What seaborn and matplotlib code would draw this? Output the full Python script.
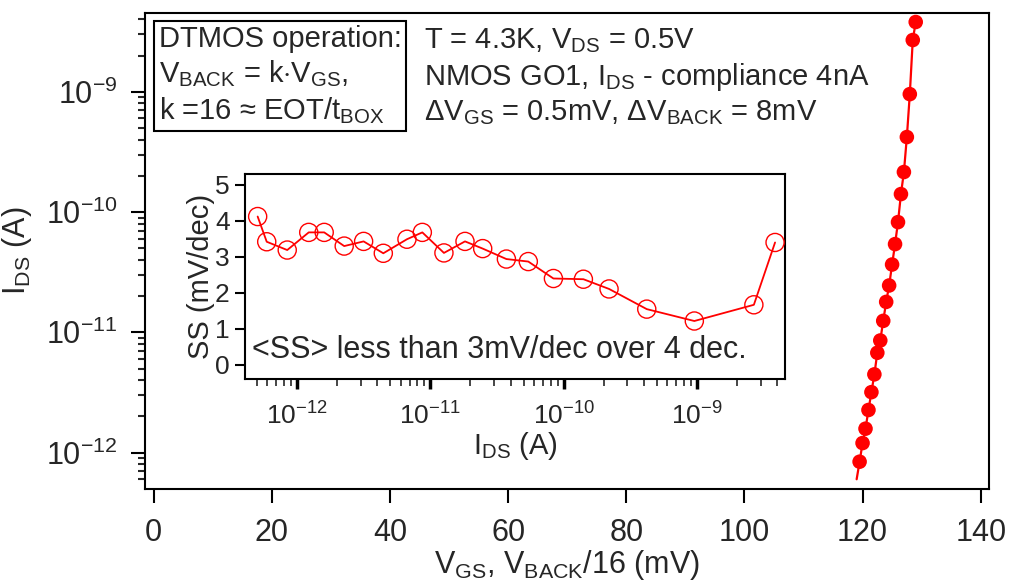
"""Subthreshold swing plot for DTMOS operation at 4.3 K (transfer curve + SS inset)."""
import matplotlib
matplotlib.use('Agg')
import matplotlib.pyplot as plt
import matplotlib.ticker as mticker
import numpy as np
import pandas as pd
import seaborn as sns

# Main transfer curve: first point is drawn as line only (no marker in the original)
vgs_mv = [119.0, 119.5, 120.0, 120.5, 121.0, 121.5, 122.0, 122.5, 123.0, 123.5, 124.0,
          124.5, 125.0, 125.5, 126.0, 126.5, 127.0, 127.5, 128.0, 128.5, 129.0]
ids_a = [6.0e-13, 8.4e-13, 1.20e-12, 1.58e-12, 2.26e-12, 3.18e-12, 4.47e-12, 6.76e-12,
         8.55e-12, 1.245e-11, 1.79e-11, 2.45e-11, 3.66e-11, 5.41e-11, 8.24e-11,
         1.41e-10, 2.15e-10, 4.20e-10, 9.55e-10, 2.69e-9, 3.80e-9]

# Inset: subthreshold swing vs drain current
ss_ids_a = [5.07e-13, 5.93e-13, 8.45e-13, 1.225e-12, 1.60e-12, 2.26e-12, 3.16e-12,
            4.44e-12, 6.68e-12, 8.71e-12, 1.265e-11, 1.82e-11, 2.47e-11, 3.72e-11,
            5.43e-11, 8.38e-11, 1.406e-10, 2.19e-10, 4.20e-10, 9.55e-10, 2.67e-9, 3.85e-9]
ss_mv_dec = [4.12, 3.42, 3.19, 3.68, 3.68, 3.30, 3.43, 3.10, 3.49, 3.68, 3.11, 3.43,
             3.23, 2.94, 2.87, 2.40, 2.38, 2.11, 1.55, 1.22, 1.67, 3.40]

main_xticks = [0, 20, 40, 60, 80, 100, 120, 140]
main_yticks = [1e-12, 1e-11, 1e-10, 1e-9]
inset_xticks = [1e-12, 1e-11, 1e-10, 1e-9]
inset_yticks = [0, 1, 2, 3, 4, 5]

sns.set_style('ticks')
plt.rcParams['font.family'] = ['Liberation Sans', 'DejaVu Sans']
plt.rcParams['mathtext.fontset'] = 'custom'
plt.rcParams['mathtext.rm'] = 'Liberation Sans'
plt.rcParams['mathtext.it'] = 'Liberation Sans:italic'
plt.rcParams['mathtext.bf'] = 'Liberation Sans:bold'
plt.rcParams['axes.linewidth'] = 1.5

main_df = pd.DataFrame({'vgs': vgs_mv, 'ids': ids_a})
ss_df = pd.DataFrame({'ids': ss_ids_a, 'ss': ss_mv_dec})

fig = plt.figure(figsize=(10.09, 5.83), dpi=100)
ax = fig.add_axes([0.1437, 0.1618, 0.8368, 0.8164])

sns.lineplot(data=main_df, x='vgs', y='ids', color='#ff0000', lw=1.6, ax=ax)
sns.scatterplot(data=main_df.iloc[1:], x='vgs', y='ids', color='#ff0000', s=110,
                edgecolor='none', ax=ax, zorder=3)
ax.set_yscale('log')
ax.set_xlim(-1.47, 141.46)
ax.set_ylim(10 ** -12.30, 10 ** -8.343)
ax.set_xticks(main_xticks)
ax.set_yticks(main_yticks)
ax.yaxis.set_minor_locator(mticker.LogLocator(base=10, subs=np.arange(2, 10)))
ax.yaxis.set_minor_formatter(mticker.NullFormatter())
ax.tick_params(axis='both', which='major', direction='out', length=10, width=1.5,
               labelsize=22, color='black')
ax.tick_params(axis='x', pad=11)
ax.tick_params(axis='y', pad=10)
ax.tick_params(axis='y', which='minor', direction='out', length=5, width=1.5)
ax.set_xlabel(r'V$_{\rm GS}$, V$_{\rm BACK}$/16 (mV)', fontsize=22, labelpad=0)
ax.set_ylabel(r'I$_{\rm DS}$ (A)', fontsize=22, labelpad=8)
for s in ax.spines.values():
    s.set_visible(True)
    s.set_color('black')

ax.text(0.016, 0.975, 'DTMOS operation:\n'
        r'V$_{\rm BACK}$ = k$\cdot$V$_{\rm GS}$,' '\n'
        r'k =16 ≈ EOT/t$_{\rm BOX}$',
        transform=ax.transAxes, fontsize=21, va='top', ha='left', linespacing=1.25,
        bbox=dict(boxstyle='square,pad=0.15', fc='white', ec='black', lw=1.5))
ax.text(0.331, 0.972, r'T = 4.3K, V$_{\rm DS}$ = 0.5V' '\n'
        r'NMOS GO1, I$_{\rm DS}$ - compliance 4nA' '\n'
        r'ΔV$_{\rm GS}$ = 0.5mV, ΔV$_{\rm BACK}$ = 8mV',
        transform=ax.transAxes, fontsize=21, va='top', ha='left', linespacing=1.25)

# inset
axi = fig.add_axes([0.2428, 0.3499, 0.5352, 0.3516])
sns.lineplot(data=ss_df, x='ids', y='ss', color='#ff0000', lw=1.3, ax=axi)
sns.scatterplot(data=ss_df, x='ids', y='ss', s=170, facecolor='none',
                edgecolor='#ff0000', linewidth=1.0, ax=axi, zorder=3)
axi.set_xscale('log')
axi.set_xlim(10 ** -12.39, 10 ** -8.34)
axi.set_ylim(-0.39, 5.3)
axi.set_yticks(inset_yticks)
axi.set_xticks(inset_xticks)
axi.xaxis.set_minor_locator(mticker.LogLocator(base=10, subs=np.arange(2, 10), numticks=10))
axi.xaxis.set_minor_formatter(mticker.NullFormatter())
axi.tick_params(axis='both', which='major', direction='out', length=7, width=1.5,
                labelsize=19, color='black')
axi.tick_params(axis='x', which='major', width=2.5, pad=10)
axi.tick_params(axis='x', which='minor', direction='out', length=5, width=1.2)
axi.tick_params(axis='y', pad=4)
axi.set_xlabel(r'I$_{\rm DS}$ (A)', fontsize=21, labelpad=0)
axi.set_ylabel('SS (mV/dec)', fontsize=21, labelpad=0)
for s in axi.spines.values():
    s.set_visible(True)
    s.set_color('black')
axi.text(0.013, 0.14, '<SS> less than 3mV/dec over 4 dec.', transform=axi.transAxes,
         fontsize=22, va='center', ha='left')

fig.savefig('out.png', dpi=100)
